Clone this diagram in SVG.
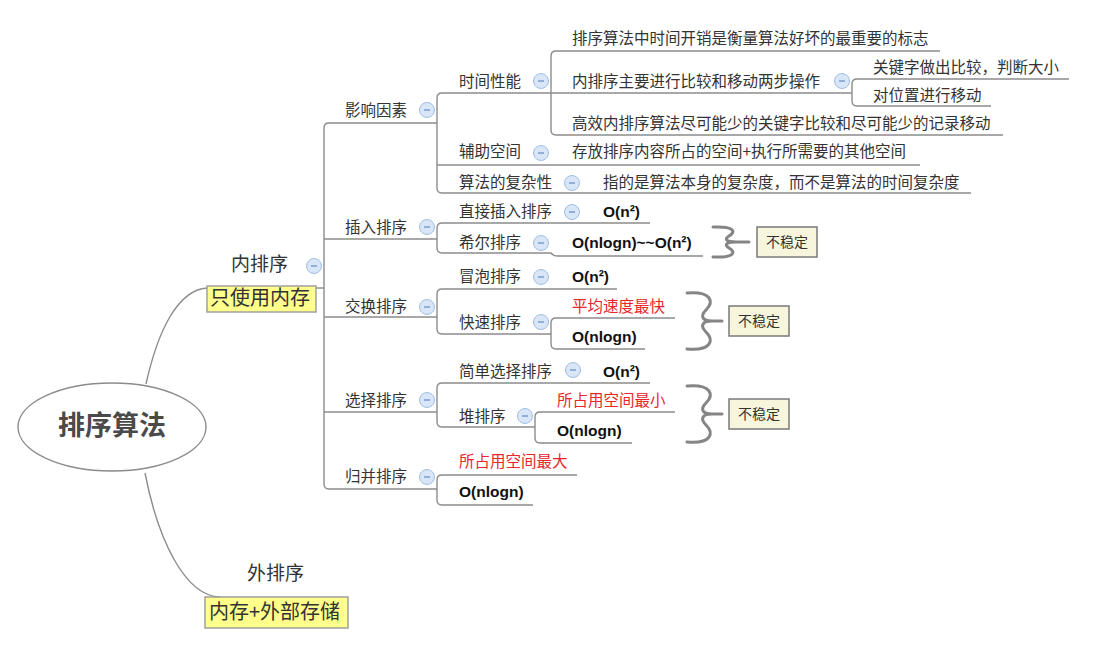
<svg xmlns="http://www.w3.org/2000/svg" width="1093" height="662" viewBox="0 0 1093 662">
<defs>
<style>
.t{font-family:"Noto Sans CJK SC","Noto Sans",sans-serif;font-size:15.5px;fill:#333}
.r{font-family:"Noto Sans CJK SC","Noto Sans",sans-serif;font-size:15.5px;fill:#e8262b}
.b{font-family:"Liberation Sans",Arial,"Noto Sans CJK SC",sans-serif;font-size:15.5px;font-weight:bold;fill:#111}
.big{font-family:"Noto Sans CJK SC",sans-serif;font-size:19px;fill:#333}
.ln{fill:none;stroke:#8c8c8c;stroke-width:1.4}
.br{fill:none;stroke:#858585;stroke-width:3;stroke-linecap:round}
.yb{fill:#ffff8c;stroke:#9a9a9a;stroke-width:1.4}
.nb{fill:#f7f5dc;stroke:#7a7a7a;stroke-width:1.5}
.cc{fill:#d8e6f8;stroke:#a0bee4;stroke-width:1}
.cm{stroke:#6f92c4;stroke-width:1.3}
</style>
<g id="tog"><circle class="cc" cx="0" cy="0" r="7.5"/><line class="cm" x1="-3" y1="0" x2="3" y2="0"/></g>
</defs>
<rect width="1093" height="662" fill="#fff"/>

<g id="connectors">
<path class="ln" d="M146,384 C158,330 178,290 207,288"/>
<path class="ln" d="M145,473 C158,540 185,596 220,597"/>
<path class="ln" d="M316,288 L324,288"/>
<path class="ln" d="M437,123 L329,123 Q324,123 324,128 L324,484 Q324,489 329,489 L437,489"/>
<path class="ln" d="M324,239 L437,239 M324,317 L437,317 M324,412 L437,412"/>
<path class="ln" d="M852,93 L442,93 Q437,93 437,98 L437,188 Q437,193 442,193 L971,193"/>
<path class="ln" d="M437,165 L920,165"/>
<path class="ln" d="M940,51 L556,51 Q551,51 551,56 L551,130 Q551,135 556,135 L1003,135"/>
<path class="ln" d="M1069,79 L857,79 Q852,79 852,84 L852,101 Q852,106 857,106 L991,106"/>
<path class="ln" d="M650,223 L442,223 Q437,223 437,228 L437,248 Q437,253 442,253 L551,253 Q553,256 557,256 L703,256"/>
<path class="ln" d="M617,289 L442,289 Q437,289 437,294 L437,329 Q437,334 442,334 L551,334"/>
<path class="ln" d="M675,318 L556,318 Q551,318 551,323 L551,344 Q551,349 556,349 L645,349"/>
<path class="ln" d="M650,383 L442,383 Q437,383 437,388 L437,422 Q437,427 442,427 L535,427"/>
<path class="ln" d="M675,412 L540,412 Q535,412 535,417 L535,438 Q535,443 540,443 L632,443"/>
<path class="ln" d="M577,475 L442,475 Q437,475 437,480 L437,500 Q437,505 442,505 L533,505"/>
<path class="br" d="M713,227 C735,226 736,232 729,236 C724,239 726,242 736,242 L749,242 M736,242 C726,242 724,245 729,248 C736,252 735,258 713,257"/>
<path class="br" d="M687,293 C712,291 714,302 706,310 C700,316 702,321 712,321 L722,321 M712,321 C702,321 700,326 706,332 C714,340 712,351 687,349"/>
<path class="br" d="M687,386 C712,384 714,395 706,403 C700,409 702,414 712,414 L722,414 M712,414 C702,414 700,419 706,425 C714,433 712,444 687,442"/>
</g>

<g id="root">
<ellipse cx="112" cy="427" rx="94" ry="44" fill="#fff" stroke="#8c8c8c" stroke-width="1.4"/>
<text x="112" y="435" text-anchor="middle" style="font-family:'Noto Sans CJK SC',sans-serif;font-size:27px;font-weight:bold;fill:#4a4a4a">排序算法</text>
</g>

<g id="n-inner">
<text class="big" x="231" y="271">内排序</text>
<use href="#tog" x="314" y="266"/>
<rect class="yb" x="207" y="286" width="109" height="26"/>
<text class="big" x="210" y="305" style="font-size:20px">只使用内存</text>
</g>

<g id="n-outer">
<text class="big" x="247" y="580">外排序</text>
<rect class="yb" x="205" y="597" width="143" height="31"/>
<text class="big" x="209" y="619" style="font-size:20px">内存+外部存储</text>
</g>

<g id="n-factors"><text class="t" x="345" y="116">影响因素</text><use href="#tog" x="427" y="110"/></g>
<g id="n-time"><text class="t" x="459" y="87">时间性能</text><use href="#tog" x="541" y="81"/></g>
<g id="n-time1"><text class="t" x="572" y="44">排序算法中时间开销是衡量算法好坏的最重要的标志</text></g>
<g id="n-time2"><text class="t" x="572" y="87">内排序主要进行比较和移动两步操作</text><use href="#tog" x="842" y="81"/></g>
<g id="n-time2a"><text class="t" x="873" y="73">关键字做出比较，判断大小</text></g>
<g id="n-time2b"><text class="t" x="873" y="101">对位置进行移动</text></g>
<g id="n-time3"><text class="t" x="572" y="129">高效内排序算法尽可能少的关键字比较和尽可能少的记录移动</text></g>
<g id="n-space"><text class="t" x="459" y="157">辅助空间</text><use href="#tog" x="541" y="153"/></g>
<g id="n-space1"><text class="t" x="572" y="157">存放排序内容所占的空间+执行所需要的其他空间</text></g>
<g id="n-cplx"><text class="t" x="459" y="188">算法的复杂性</text><use href="#tog" x="572" y="183"/></g>
<g id="n-cplx1"><text class="t" x="603" y="188">指的是算法本身的复杂度，而不是算法的时间复杂度</text></g>

<g id="n-insert"><text class="t" x="345" y="233">插入排序</text><use href="#tog" x="427" y="227"/></g>
<g id="n-direct"><text class="t" x="459" y="217">直接插入排序</text><use href="#tog" x="572" y="212"/></g>
<g id="n-direct1"><text class="b" x="603" y="217">O(n²)</text></g>
<g id="n-shell"><text class="t" x="459" y="248">希尔排序</text><use href="#tog" x="541" y="243"/></g>
<g id="n-shell1"><text class="b" x="572" y="248">O(nlogn)~~O(n²)</text></g>
<g id="n-shell-note"><rect class="nb" x="757" y="227" width="60" height="30"/><text class="t" x="766" y="247" style="font-size:14px">不稳定</text></g>

<g id="n-swap"><text class="t" x="345" y="312">交换排序</text><use href="#tog" x="427" y="307"/></g>
<g id="n-bubble"><text class="t" x="459" y="282">冒泡排序</text><use href="#tog" x="541" y="277"/></g>
<g id="n-bubble1"><text class="b" x="572" y="282">O(n²)</text></g>
<g id="n-quick"><text class="t" x="459" y="328">快速排序</text><use href="#tog" x="541" y="322"/></g>
<g id="n-quick1"><text class="r" x="572" y="312">平均速度最快</text></g>
<g id="n-quick2"><text class="b" x="572" y="342">O(nlogn)</text></g>
<g id="n-quick-note"><rect class="nb" x="729" y="306" width="60" height="30"/><text class="t" x="738" y="326" style="font-size:14px">不稳定</text></g>

<g id="n-select"><text class="t" x="345" y="406">选择排序</text><use href="#tog" x="427" y="400"/></g>
<g id="n-simple"><text class="t" x="459" y="377">简单选择排序</text><use href="#tog" x="573" y="370"/></g>
<g id="n-simple1"><text class="b" x="603" y="377">O(n²)</text></g>
<g id="n-heap"><text class="t" x="459" y="422">堆排序</text><use href="#tog" x="525" y="416"/></g>
<g id="n-heap1"><text class="r" x="557" y="406">所占用空间最小</text></g>
<g id="n-heap2"><text class="b" x="557" y="436">O(nlogn)</text></g>
<g id="n-heap-note"><rect class="nb" x="729" y="399" width="60" height="30"/><text class="t" x="738" y="419" style="font-size:14px">不稳定</text></g>

<g id="n-merge"><text class="t" x="345" y="482">归并排序</text><use href="#tog" x="427" y="477"/></g>
<g id="n-merge1"><text class="r" x="459" y="467">所占用空间最大</text></g>
<g id="n-merge2"><text class="b" x="459" y="497">O(nlogn)</text></g>
</svg>
